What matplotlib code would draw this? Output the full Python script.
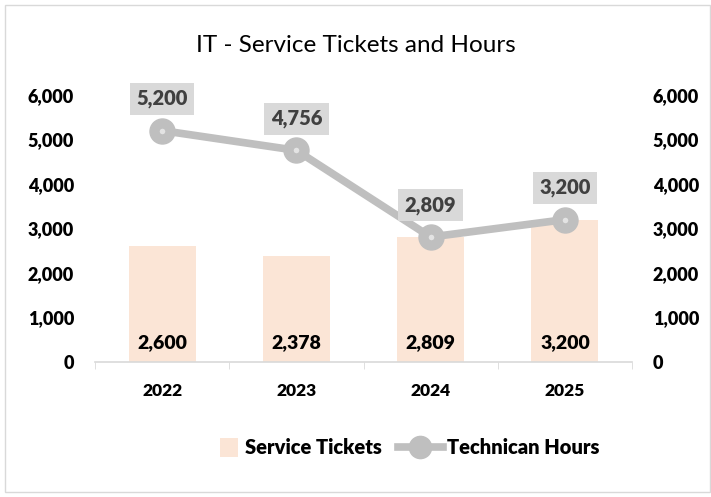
import matplotlib
matplotlib.use("Agg")
import matplotlib.pyplot as plt
from matplotlib.patches import Rectangle, Patch
from matplotlib.ticker import FuncFormatter, FixedLocator
from matplotlib.lines import Line2D
from matplotlib.legend_handler import HandlerPatch

plt.rcParams['font.family'] = ['Lato', 'DejaVu Sans']

years = ["2022", "2023", "2024", "2025"]
tickets = [2600, 2378, 2809, 3200]
hours = [5200, 4756, 2809, 3200]
yticks = [0, 1000, 2000, 3000, 4000, 5000, 6000]

bar_color = "#FBE5D6"
line_color = "#BFBFBF"
W = "heavy"

fig = plt.figure(figsize=(7.11, 4.97), dpi=100)
fig.patches.append(Rectangle((5/711, 5/497), 705/711, 487/497, transform=fig.transFigure,
                             fill=False, edgecolor="#D9D9D9", lw=1))

ax = fig.add_axes([95/711, 135/497, 537/711, 267/497])
x = list(range(len(years)))
ax.bar(x, tickets, width=0.5, color=bar_color, zorder=1)
ax.set_xlim(-0.5, len(years) - 0.5)
ax.set_ylim(0, 6000)
ax.set_yticks(yticks)
fmt = FuncFormatter(lambda v, p: f"{int(v):,}")
ax.yaxis.set_major_formatter(fmt)
ax.set_xticks(x)
ax.set_xticklabels(years, fontsize=12.5, fontweight=W)
ax.xaxis.set_minor_locator(FixedLocator([i + 0.5 for i in range(-1, len(years))]))
ax.tick_params(axis="x", which="major", length=0, pad=15)
ax.tick_params(axis="x", which="minor", length=5, color="#D9D9D9")
ax.tick_params(axis="y", length=0, labelsize=13, pad=15)
for lab in ax.get_yticklabels():
    lab.set_fontweight(W)
for s in ["top", "left", "right"]:
    ax.spines[s].set_visible(False)
ax.spines["bottom"].set_color("#D9D9D9")
ax.spines["bottom"].set_linewidth(1.2)

for xi, v in zip(x, tickets):
    ax.text(xi, 320, f"{v:,}", ha="center", va="baseline", fontsize=14, fontweight=W, color="#000000")

ax2 = ax.twinx()
ax2.set_ylim(0, 6000)
ax2.set_yticks(yticks)
ax2.yaxis.set_major_formatter(fmt)
ax2.tick_params(axis="y", length=0, labelsize=13, pad=15)
for lab in ax2.get_yticklabels():
    lab.set_fontweight(W)
for s in ["top", "left", "right", "bottom"]:
    ax2.spines[s].set_visible(False)

ax2.plot(x, hours, color=line_color, lw=5.5, marker="o", markersize=18,
         markerfacecolor=line_color, markeredgecolor=line_color, zorder=3, solid_capstyle="round")
ax2.plot(x, hours, ls="none", marker="o", markersize=4, markerfacecolor="#E3E3E3",
         markeredgecolor="none", zorder=4)
for xi, v in zip(x, hours):
    ax2.annotate(f"{v:,}", (xi, v), xytext=(0, 16), textcoords="offset points",
                 ha="center", va="bottom", fontsize=14.5, fontweight=W, color="#404040",
                 bbox=dict(boxstyle="square,pad=0.32", fc="#D9D9D9", ec="none"), zorder=5)

fig.text(0.5, 1 - 45/497, "IT - Service Tickets and Hours", ha="center", va="center", fontsize=17.5)


class SquarePatchHandler(HandlerPatch):
    def create_artists(self, legend, orig_handle, xdescent, ydescent, width, height, fontsize, trans):
        s = height * 1.3
        r = Rectangle((width - s - 2, (height - s) / 2 - ydescent), s, s,
                      facecolor=orig_handle.get_facecolor(), edgecolor="none", transform=trans)
        return [r]


handles = [Patch(facecolor=bar_color, label="Service Tickets"),
           Line2D([0], [0], color=line_color, lw=5.5, marker="o", markersize=16,
                  markerfacecolor=line_color, markeredgecolor=line_color, label="Technican Hours")]
leg = fig.legend(handles=handles, loc="center", bbox_to_anchor=(398/711, 1 - 448/497), ncol=2,
                 frameon=False, prop={"size": 14.5, "weight": W}, handlelength=2.2,
                 columnspacing=0.8, handletextpad=0.2,
                 handler_map={Patch: SquarePatchHandler()})

fig.savefig("out.png", dpi=100)
